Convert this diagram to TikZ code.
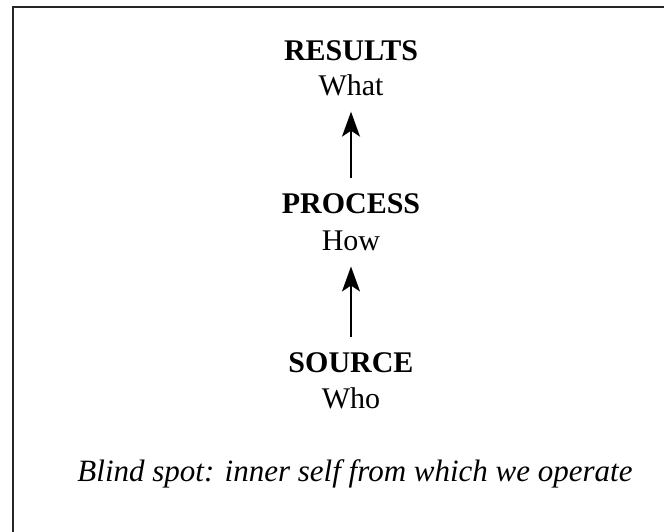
\documentclass[tikz,border=0pt]{standalone}
\usepackage{fontspec}
\setmainfont{Liberation Serif}
\usetikzlibrary{arrows.meta}
\begin{document}
\begin{tikzpicture}[x=1pt,y=-1pt,
  headtxt/.style={font=\fontsize{30}{32}\selectfont\bfseries, anchor=base, inner sep=0pt},
  subtxt/.style={font=\fontsize{30}{32}\selectfont, anchor=base, inner sep=0pt},
  captxt/.style={font=\fontsize{31}{32}\selectfont\itshape, anchor=base, inner sep=0pt},
  uparrow/.style={line width=2pt, -{Stealth[length=25pt,width=18pt,inset=6pt]}, shorten <=15pt, shorten >=16pt}]
\useasboundingbox (0,0) rectangle (664,531);
\draw[line width=2.5pt, color=black!85] (13,540) -- (13,7) -- (680,7);
\node[headtxt] (results) at (351,60) {RESULTS};
\node[subtxt] (what) at (351,95) {What};
\node[headtxt] (process) at (351,213) {PROCESS};
\node[subtxt] (how) at (351,250) {How};
\node[headtxt] (source) at (351,372) {SOURCE};
\node[subtxt] (who) at (351,408) {Who};
\node[captxt] (blind) at (355,481) {Blind spot: inner self from which we operate};
\draw[uparrow] (process.north) -- (what.south);
\draw[uparrow] (source.north) -- (how.south);
\end{tikzpicture}
\end{document}
